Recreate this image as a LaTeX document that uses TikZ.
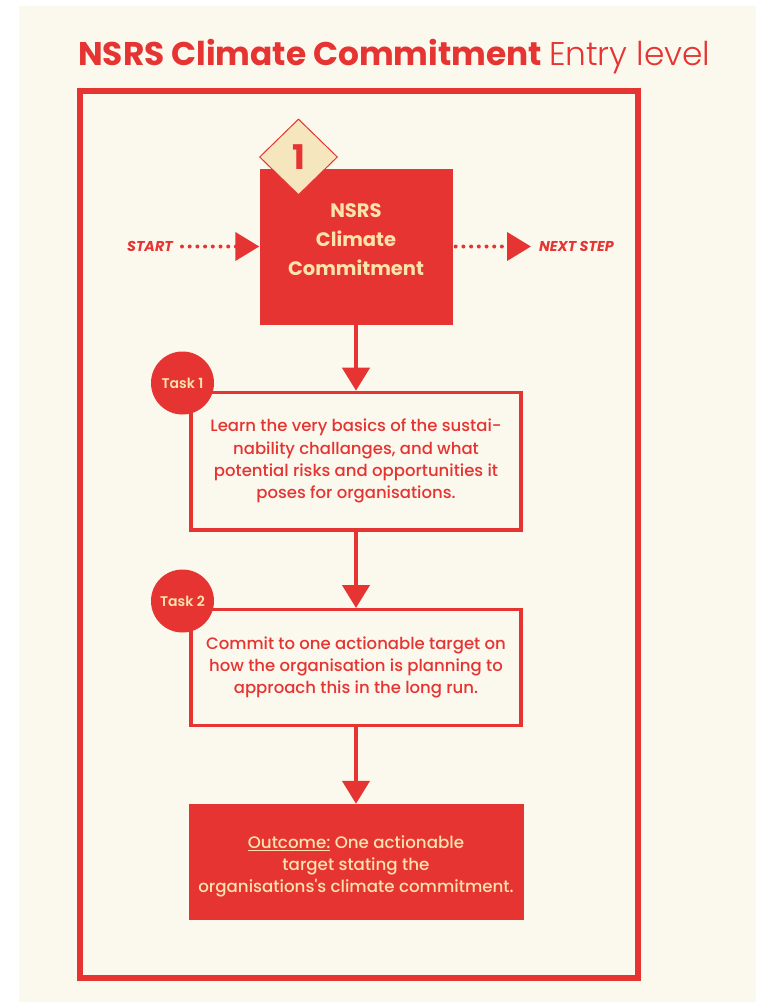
\documentclass[tikz,border=0pt]{standalone}
\usepackage{fontspec}
\setmainfont{Poppins}
\newfontfamily\pmed{Poppins Medium}
\newfontfamily\psemi{Poppins SemiBold}
\newfontfamily\plight{Poppins Light}
\newfontfamily\pbold{Poppins Bold}
\newfontfamily\pbi{Poppins Bold Italic}
\usetikzlibrary{arrows.meta,shapes.geometric}
\definecolor{nred}{HTML}{E53432}
\definecolor{bgcream}{HTML}{FBF8EE}
\definecolor{tcream}{HTML}{FBE3A9}
\definecolor{dcream}{HTML}{F5E6BD}
\begin{document}
\begin{tikzpicture}[x=1pt,y=-1pt,
  taskbox/.style={draw=nred, line width=3.3pt, fill=bgcream, inner sep=0pt, align=center,
    text=nred, font=\fontsize{16.5}{22.3}\pmed},
  taskcircle/.style={circle, fill=nred, minimum size=63pt, inner sep=0pt, text=tcream,
    font=\fontsize{14}{14}\psemi},
  downarrow/.style={nred, line width=4.3pt, -{Triangle[length=23pt,width=27pt]}},
  dotarrow/.style={nred, line width=4pt, dash pattern=on 0pt off 7.7pt, line cap=round,
    -{Triangle[length=24pt,width=28pt]}},
  sidelabel/.style={text=nred, font=\fontsize{14.3}{15}\pbi, inner sep=0pt}
]
\fill[white] (0,0) rectangle (756,1002);
\useasboundingbox (0,0) rectangle (756,1002);
\fill[bgcream] (19,6) rectangle (756,1002);

% title
\node[anchor=base west, text=nred, inner sep=0pt] (title) at (78,65)
  {\fontsize{32.8}{38}\pbold NSRS Climate Commitment \plight Entry level};

% frame
\draw[nred, line width=6pt] (80,91) rectangle (638,978);

% main box
\node[fill=nred, minimum width=193pt, minimum height=156pt, inner sep=0pt] (main) at (356,246.5) {};
\node[text=tcream, align=center, font=\fontsize{19.5}{29}\pbold, inner sep=0pt] (mainlbl) at (356,240)
  {NSRS\\Climate\\Commitment};
\node[diamond, draw=nred, line width=1pt, fill=dcream, minimum width=78pt, minimum height=76pt,
  inner sep=0pt, text=nred, font=\fontsize{34}{34}\pbold] (num) at (298.5,157) {1};

% start / next
\node[sidelabel, anchor=east] (start) at (173,246.5) {START};
\node[sidelabel, anchor=west] (next) at (539,246.5) {NEXT STEP};
\draw[dotarrow, shorten <=9pt] (start.east) -- (main.west);
\draw[dotarrow, shorten <=3pt, shorten >=8pt] (main.east) -- (next.west);

% tasks
\node[taskbox, minimum width=330pt, minimum height=137.7pt] (t1) at (356,461.2)
  {Learn the very basics of the sustai-\\nability challanges, and what\\potential risks and opportunities it\\poses for organisations.};
\node[taskcircle] (c1) at (182.5,383) {Task 1};

\node[taskbox, minimum width=330pt, minimum height=115.7pt] (t2) at (356,667.5)
  {Commit to one actionable target on\\how the organisation is planning to\\approach this in the long run.};
\node[taskcircle] (c2) at (182.5,601) {Task 2};

% outcome
\node[fill=nred, minimum width=335pt, minimum height=116pt, inner sep=0pt] (out) at (356,862) {};
\node[align=center, inner sep=0pt, text=tcream, font=\fontsize{16.7}{22}\pmed] (outlbl) at (356,866)
  {\underline{Outcome:} One actionable\\target stating the\\organisations's climate commitment.};

% connectors
\draw[downarrow] (main.south) -- (t1.north);
\draw[downarrow] (t1.south) -- (t2.north);
\draw[downarrow] (t2.south) -- (out.north);
\end{tikzpicture}
\end{document}
